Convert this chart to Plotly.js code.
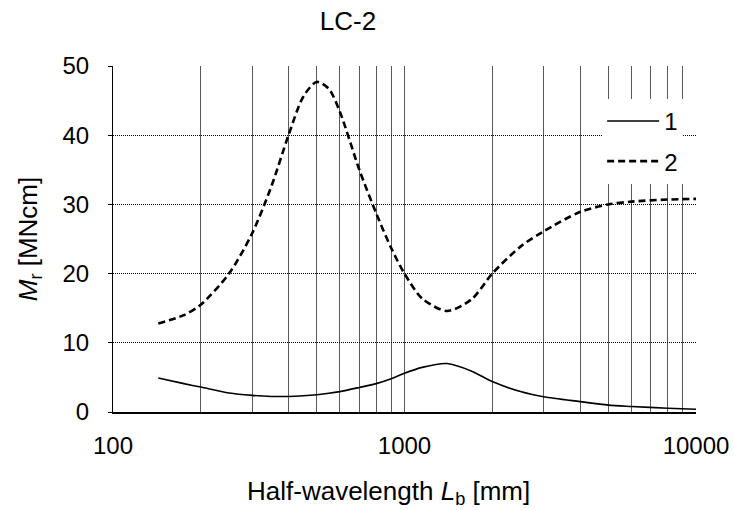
<!DOCTYPE html>
<html>
<head>
<meta charset="utf-8">
<script src="https://cdn.plot.ly/plotly-3.0.1.min.js"></script>
<style>html,body{margin:0;padding:0;background:#fff;}#chart{width:734px;height:510px;}</style>
</head>
<body>
<div id="chart"></div>
<script>
// Half-wavelength L_b [mm]
const halfWavelength = [143, 175, 200, 250, 300, 350, 400, 450, 500, 550, 600, 700, 800, 900, 1000, 1150, 1400, 1700, 2000, 2500, 3000, 4000, 5000, 6000, 8000, 10000];
// Series 1 (solid)
const series1 = [4.9, 4.1, 3.6, 2.75, 2.4, 2.25, 2.25, 2.35, 2.5, 2.7, 2.95, 3.55, 4.1, 4.8, 5.6, 6.45, 7.0, 5.9, 4.4, 2.95, 2.2, 1.5, 1.0, 0.8, 0.55, 0.4];
// Series 2 (dashed)
const series2 = [12.8, 14.0, 15.5, 20.0, 25.8, 32.7, 40.0, 45.6, 47.7, 46.7, 43.4, 35.0, 28.7, 23.7, 20.0, 16.4, 14.6, 16.3, 20.0, 23.9, 26.1, 28.9, 30.0, 30.4, 30.7, 30.8];
const seriesNames = ["1", "2"];
const xTickVals = [100,200,300,400,500,600,700,800,900,1000,2000,3000,4000,5000,6000,7000,8000,9000,10000];
const xTickText = ["100","","","","","","","","","1000","","","","","","","","","10000"];
const yTickVals = [0, 10, 20, 30, 40, 50];
const yRange = [0, 50];
const chartTitle = "LC-2";
const xTitle = "Half-wavelength <i>L</i><sub>b</sub> [mm]";
const yTitle = "<i>M</i><sub>r</sub> [MNcm]";

const FONT = "Liberation Sans, Arial, sans-serif";

const traces = [
  {x: halfWavelength, y: series1, name: seriesNames[0], type: "scatter", mode: "lines", yaxis: "y",
   line: {color: "#000", width: 1.6, shape: "spline", smoothing: 0.8}, legendgroup: "a"},
  {x: halfWavelength, y: series2, name: seriesNames[1], type: "scatter", mode: "lines", yaxis: "y2",
   line: {color: "#000", width: 2.6, dash: "7px,4px", shape: "spline", smoothing: 0.8}, legendgroup: "b"}
];

const layout = {
  width: 734, height: 510,
  margin: {l: 113, r: 38, t: 66, b: 98},
  paper_bgcolor: "#fff", plot_bgcolor: "#fff",
  font: {family: FONT, size: 24, color: "#000"},
  title: {text: chartTitle, font: {family: FONT, size: 26, color: "#000"},
          xref: "container", x: 0.474, xanchor: "center", yref: "container", y: 0.959, yanchor: "middle"},
  xaxis: {
    type: "log", range: [2, 4], tickvals: xTickVals, ticktext: xTickText,
    showgrid: true, gridcolor: "#5a5a5a", gridwidth: 1,
    showline: true, linecolor: "#000", linewidth: 1.5,
    ticks: "", ticklabelstandoff: 12,
    tickfont: {family: FONT, size: 24, color: "#000"},
    zeroline: false
  },
  // axis with grid, line and short black ticks
  yaxis: {
    range: yRange, tickvals: yTickVals, showticklabels: false,
    showgrid: true, gridcolor: "#000", gridwidth: 1, griddash: "1px,1px",
    showline: true, linecolor: "#000", linewidth: 1.5,
    ticks: "outside", ticklen: 4, tickcolor: "#000",
    zeroline: false
  },
  // overlay axis with the same scale, carrying the labels (spaced further out) and the title
  yaxis2: {
    overlaying: "y", side: "left", anchor: "x",
    range: yRange, tickvals: yTickVals,
    showgrid: false, showline: false, zeroline: false,
    ticks: "outside", ticklen: 18, tickcolor: "rgba(0,0,0,0)",
    tickfont: {family: FONT, size: 24, color: "#000"},
    title: {text: yTitle, font: {family: FONT, size: 26, color: "#000"}, standoff: 17}
  },
  annotations: [
    {text: xTitle, xref: "paper", yref: "paper", x: 0.472, y: -0.234, xanchor: "center", yanchor: "middle",
     showarrow: false, font: {family: FONT, size: 26, color: "#000"}}
  ],
  showlegend: true,
  legend: {x: 0.839, y: 0.905, xanchor: "left", yanchor: "top", bgcolor: "#fff", borderwidth: 0,
           font: {family: FONT, size: 24, color: "#000"}, traceorder: "grouped", tracegroupgap: 6,
           itemwidth: 52}
};

Plotly.newPlot("chart", traces, layout, {staticPlot: true, displayModeBar: false});
</script>
</body>
</html>
